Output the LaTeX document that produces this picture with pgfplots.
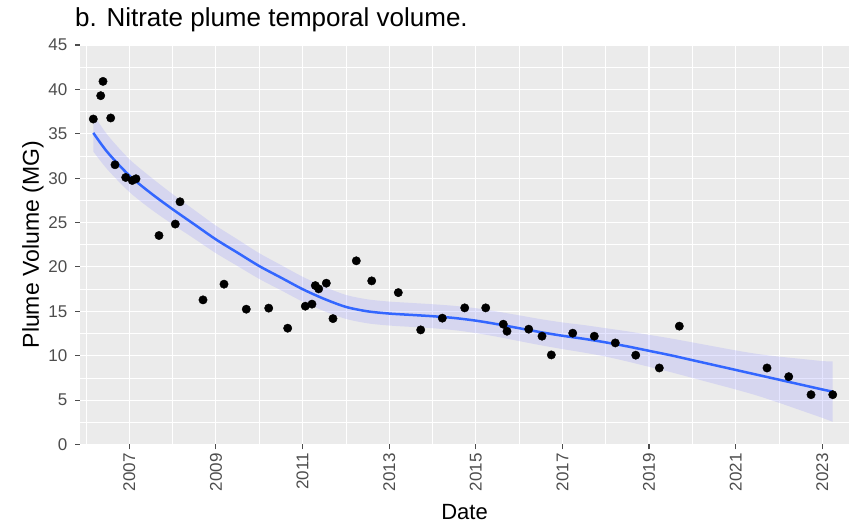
\documentclass[border=0pt]{standalone}
\usepackage{fontspec}
\setmainfont{Liberation Sans}
\usepackage{pgfplots}
\usepackage{pgfplotstable}
\pgfplotsset{compat=1.18}
\usepgfplotslibrary{fillbetween}

\definecolor{panelbg}{HTML}{EBEBEB}
\definecolor{smoothblue}{HTML}{3366FF}
\definecolor{tickgrey}{HTML}{4D4D4D}
\definecolor{bandfill}{RGB}{140,140,255}

% Observed plume volume (MG) by sampling date (decimal year)
\pgfplotstableread{
t        vol
2006.169 36.66
2006.340 39.29
2006.393 40.90
2006.571 36.78
2006.670 31.51
2006.917 30.08
2007.069 29.74
2007.155 29.93
2007.686 23.54
2008.062 24.83
2008.171 27.34
2008.702 16.29
2009.187 18.06
2009.701 15.24
2010.219 15.36
2010.657 13.10
2011.064 15.58
2011.218 15.81
2011.295 17.90
2011.373 17.53
2011.549 18.17
2011.703 14.18
2012.241 20.69
2012.597 18.43
2013.211 17.11
2013.728 12.91
2014.227 14.23
2014.744 15.39
2015.229 15.39
2015.635 13.55
2015.721 12.76
2016.222 12.99
2016.529 12.20
2016.744 10.09
2017.238 12.54
2017.736 12.20
2018.221 11.44
2018.693 10.06
2019.237 8.62
2019.699 13.33
2021.724 8.62
2022.225 7.64
2022.740 5.61
2023.241 5.61
}\obs

% Loess fit and its standard error
\pgfplotstableread{
t        fit   se
2006.169 35.10 2.10
2006.5   32.90 1.95
2007.0   30.30 1.85
2007.5   28.30 1.80
2008.0   26.50 1.70
2008.5   24.80 1.62
2009.0   23.10 1.55
2009.5   21.60 1.50
2010.0   20.10 1.45
2010.5   18.80 1.42
2011.0   17.50 1.40
2011.5   16.40 1.38
2012.0   15.50 1.35
2012.5   15.00 1.35
2013.0   14.75 1.35
2013.5   14.60 1.35
2014.0   14.45 1.35
2014.5   14.25 1.37
2015.0   13.95 1.40
2015.5   13.55 1.42
2016.0   13.10 1.45
2016.5   12.65 1.47
2017.0   12.25 1.50
2017.5   11.90 1.55
2018.0   11.50 1.60
2018.5   11.05 1.70
2019.0   10.55 1.80
2019.5   10.05 1.90
2020.0    9.50 2.00
2020.5    8.95 2.10
2021.0    8.40 2.20
2021.5    7.85 2.35
2022.0    7.30 2.60
2022.5    6.75 2.90
2023.0    6.20 3.20
2023.241  5.95 3.40
}\fitted

\begin{document}
\begin{tikzpicture}[x=1bp,y=1bp]
\begin{axis}[
  at={(0,0)}, anchor=south west,
  scale only axis, width=769bp, height=399.5bp,
  xmin=2005.862, xmax=2023.617, ymin=0, ymax=45,
  axis background/.style={fill=panelbg},
  axis line style={draw=none},
  grid=both,
  major grid style={white, line width=1.1bp},
  minor grid style={white, line width=0.55bp},
  xtick={2007,2009,...,2023},
  minor xtick={2006,2008,...,2022},
  ytick={0,5,...,45},
  minor ytick={2.5,7.5,...,42.5},
  tick pos=left, tick align=outside,
  major tick length=5bp, minor tick length=0pt,
  every tick/.style={tickgrey, line width=1.1bp},
  /pgf/number format/assume math mode=true,
  /pgf/number format/1000 sep={},
  tick label style={font=\fontsize{17bp}{20bp}\selectfont, text=tickgrey, inner sep=0pt},
  x tick label style={rotate=90, anchor=east},
  y tick label style={anchor=east},
  xticklabel shift=3.5bp, yticklabel shift=7.5bp,
  clip=true,
]
  \addplot[name path=up, draw=none, smooth] table[x=t, y expr=\thisrow{fit}+\thisrow{se}] {\fitted};
  \addplot[name path=lo, draw=none, smooth] table[x=t, y expr=\thisrow{fit}-\thisrow{se}] {\fitted};
  \addplot[fill=bandfill, fill opacity=0.22, draw=none] fill between[of=up and lo];
  \addplot[smoothblue, line width=2.5bp, smooth] table[x=t, y=fit] {\fitted};
  \addplot[only marks, mark=*, mark size=4.2bp, black] table[x=t, y=vol] {\obs};
\end{axis}
\node[anchor=base west, inner sep=0pt, font=\fontsize{26bp}{30bp}\selectfont] at (-5,418) {b. Nitrate plume temporal volume.};
\node[rotate=90, anchor=base, inner sep=0pt, font=\fontsize{23bp}{26bp}\selectfont] at (-41,199.75) {Plume Volume (MG)};
\node[anchor=base, inner sep=0pt, font=\fontsize{22bp}{25bp}\selectfont] at (384.5,-75.5) {Date};
\pgfresetboundingbox
\useasboundingbox (-80,-84.5) rectangle (769,444.5);
\end{tikzpicture}
\end{document}
